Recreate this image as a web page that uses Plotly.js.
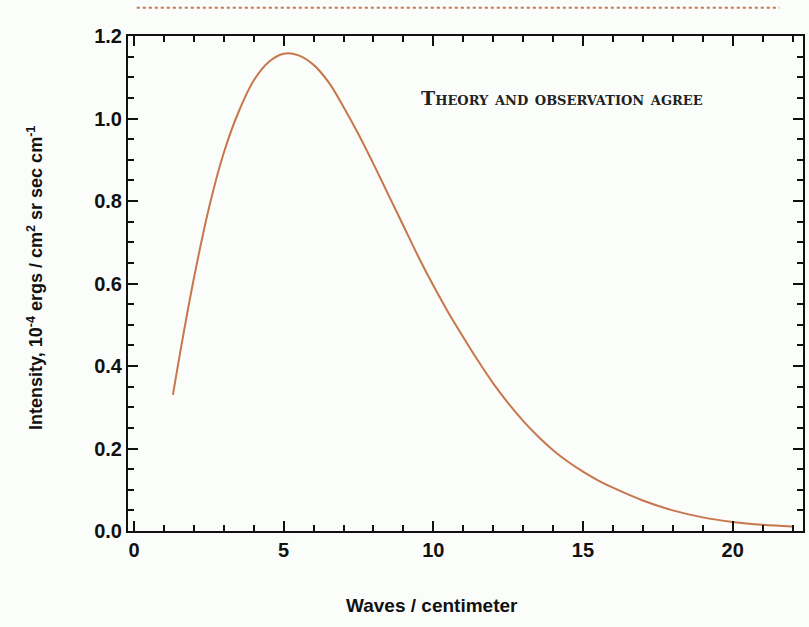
<!DOCTYPE html>
<html>
<head>
<meta charset="utf-8">
<script src="https://cdn.plot.ly/plotly-3.0.1.min.js"></script>
<style>html,body{margin:0;padding:0;background:#fbfdfb;}</style>
</head>
<body>
<div id="chart" style="width:809px;height:627px;"></div>
<script>
const waves = [1.3, 1.6, 2.0, 2.5, 3.0, 3.5, 4.0, 4.5, 5.0, 5.5, 6.0, 6.5, 7.0, 7.5, 8.0, 8.5, 9.0, 9.5, 10.0, 10.5, 11.0, 11.5, 12.0, 12.5, 13.0, 13.5, 14.0, 14.5, 15.0, 15.5, 16.0, 17.0, 18.0, 19.0, 20.0, 21.0, 22.0];
const intensity = [0.33, 0.456, 0.612, 0.782, 0.917, 1.017, 1.092, 1.137, 1.157, 1.153, 1.13, 1.088, 1.028, 0.962, 0.89, 0.815, 0.74, 0.665, 0.595, 0.53, 0.47, 0.412, 0.358, 0.31, 0.267, 0.229, 0.196, 0.168, 0.144, 0.123, 0.105, 0.074, 0.05, 0.033, 0.022, 0.015, 0.011];
const xTickVals = [0, 5, 10, 15, 20];
const yTickVals = [0.0, 0.2, 0.4, 0.6, 0.8, 1.0, 1.2];
const noteText = 'Theory and observation agree';
const xTitle = 'Waves / centimeter';
const yTitle = 'Intensity, 10<sup>-4</sup> ergs / cm<sup>2</sup> sr sec cm<sup>-1</sup>';

const sans = 'Liberation Sans, Arial, sans-serif';
const trace = {
  x: waves, y: intensity, type: 'scatter', mode: 'lines',
  line: {color: '#c8764c', width: 2, shape: 'spline', smoothing: 1},
  hoverinfo: 'none'
};
const axisCommon = {
  showgrid: false, zeroline: false, showline: true, linecolor: '#111', linewidth: 2,
  mirror: 'ticks', ticks: 'inside', ticklen: 10, tickwidth: 2, tickcolor: '#111',
  tickfont: {family: sans, size: 20, color: '#111', weight: 'bold'}
};
const layout = {
  width: 809, height: 627,
  paper_bgcolor: '#fbfdfb', plot_bgcolor: '#fbfdfb',
  margin: {l: 128, r: 6, t: 36, b: 96},
  showlegend: false,
  xaxis: Object.assign({}, axisCommon, {
    range: [-0.2, 22.35], tickvals: xTickVals, ticktext: xTickVals.map(String),
    minor: {dtick: 1, ticks: 'inside', ticklen: 6, tickwidth: 2, tickcolor: '#111', showgrid: false}
  }),
  yaxis: Object.assign({}, axisCommon, {
    range: [0, 1.2], tickvals: yTickVals, ticktext: yTickVals.map(v => v.toFixed(1)),
    minor: {dtick: 0.05, ticks: 'inside', ticklen: 6, tickwidth: 2, tickcolor: '#111', showgrid: false}
  }),
  annotations: [{
    text: noteText, xref: 'paper', yref: 'paper', x: 0.643, y: 0.875,
    xanchor: 'center', yanchor: 'middle', showarrow: false,
    font: {family: 'DejaVu Serif, Liberation Serif, serif', size: 19, color: '#222', variant: 'small-caps', weight: 'bold'}
  }, {
    text: xTitle, xref: 'paper', yref: 'paper', x: 0.45, y: -0.1495,
    xanchor: 'center', yanchor: 'middle', showarrow: false,
    font: {family: sans, size: 19, color: '#111', weight: 'bold'}
  }, {
    text: yTitle, xref: 'paper', yref: 'paper', x: -0.138, y: 0.511, textangle: -90,
    xanchor: 'center', yanchor: 'middle', showarrow: false,
    font: {family: sans, size: 18, color: '#111', weight: 'bold'}
  }],
  shapes: [{
    type: 'line', xref: 'paper', yref: 'paper', x0: 0.013, x1: 0.965, y0: 1.057, y1: 1.057,
    line: {color: '#c8764c', width: 2, dash: 'dot'}
  }]
};
Plotly.newPlot('chart', [trace], layout, {displayModeBar: false, staticPlot: true});
</script>
</body>
</html>
